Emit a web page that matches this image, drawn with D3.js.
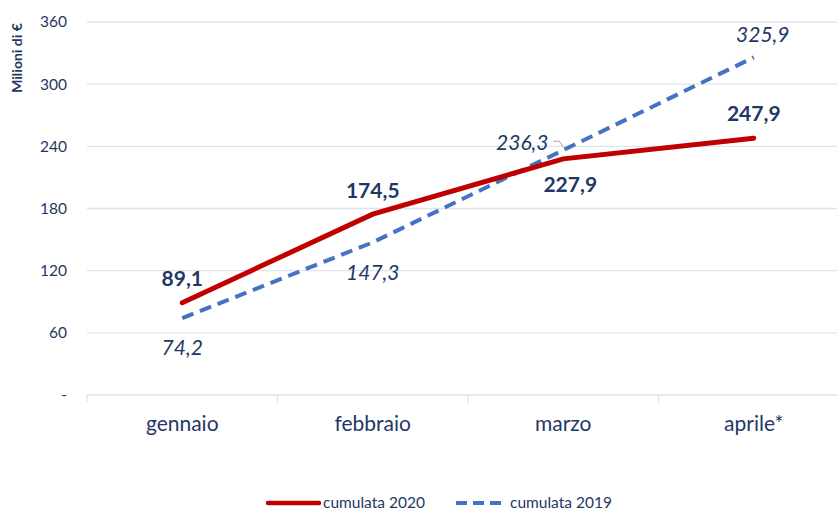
<!DOCTYPE html>
<html>
<head>
<meta charset="utf-8">
<script src="https://cdn.jsdelivr.net/npm/d3@7"></script>
<style>
  body { margin: 0; background: #fff; }
  text { font-family: Lato, "Noto Sans", sans-serif; fill: #1F3864; }
</style>
</head>
<body>
<div class="chart"></div>
<script>
var months = ["gennaio", "febbraio", "marzo", "aprile*"];
var cum2020 = [89.1, 174.5, 227.9, 247.9];
var cum2019 = [74.2, 147.3, 236.3, 325.9];
var yTicks = [0, 60, 120, 180, 240, 300, 360];

var width = 837,
    height = 511;

var svg = d3.select(".chart").append("svg")
    .attr("width", width)
    .attr("height", height);

var x = d3.scaleBand().domain(months).range([87, 849]);
var y = d3.scaleLinear().domain([0, 360]).range([395, 22]);

function fmt(v) { return d3.format(".1f")(v).replace(".", ","); }

// gridlines
svg.append("g")
  .selectAll("line")
  .data(yTicks.filter(function(d) { return d > 0; }))
  .enter().append("line")
    .attr("x1", 87).attr("x2", width)
    .attr("y1", function(d) { return y(d); })
    .attr("y2", function(d) { return y(d); })
    .attr("stroke", "#dfe3ea")
    .attr("stroke-width", 1.3);

// y tick labels
svg.append("g")
  .selectAll("text")
  .data(yTicks)
  .enter().append("text")
    .attr("x", 67)
    .attr("y", function(d) { return y(d); })
    .attr("dy", "0.35em")
    .attr("text-anchor", "end")
    .style("font-size", "15.5px")
    .text(function(d) { return d === 0 ? "-" : d; });

// x axis line + ticks
svg.append("line")
    .attr("x1", 87).attr("x2", width)
    .attr("y1", y(0)).attr("y2", y(0))
    .attr("stroke", "#dfe3ea").attr("stroke-width", 1.3);
svg.append("g")
  .selectAll("line")
  .data(months)
  .enter().append("line")
    .attr("x1", function(d) { return x(d); })
    .attr("x2", function(d) { return x(d); })
    .attr("y1", y(0)).attr("y2", y(0) + 8)
    .attr("stroke", "#dfe3ea").attr("stroke-width", 1.3);

svg.append("g")
  .selectAll("text")
  .data(months)
  .enter().append("text")
    .attr("x", function(d) { return x(d) + x.bandwidth() / 2; })
    .attr("y", 431)
    .attr("text-anchor", "middle")
    .style("font-size", "21px")
    .text(function(d) { return d; });

// y title
svg.append("text")
    .attr("transform", "translate(22,58) rotate(-90)")
    .attr("text-anchor", "middle")
    .style("font-size", "14px")
    .style("font-weight", "bold")
    .text("Milioni di €");

var line = d3.line()
    .x(function(d, i) { return x(months[i]) + x.bandwidth() / 2; })
    .y(function(d) { return y(d); });

svg.append("path")
    .datum(cum2019)
    .attr("d", line)
    .attr("fill", "none")
    .attr("stroke", "#4472C4")
    .attr("stroke-width", 4)
    .attr("stroke-dasharray", "12,7");

svg.append("path")
    .datum(cum2020)
    .attr("d", line)
    .attr("fill", "none")
    .attr("stroke", "#C00000")
    .attr("stroke-width", 5)
    .attr("stroke-linecap", "round");

// data labels (offsets relative to point)
var off2020 = [[0, -24], [0, -24], [7, 26], [0, -24]];
var off2019 = [[0, 30], [0, 30], [-41, -8], [9, -23]];

svg.append("g")
  .selectAll("text")
  .data(cum2020)
  .enter().append("text")
    .attr("x", function(d, i) { return x(months[i]) + x.bandwidth() / 2 + off2020[i][0]; })
    .attr("y", function(d, i) { return y(d) + off2020[i][1]; })
    .attr("dy", "0.35em")
    .attr("text-anchor", "middle")
    .style("font-size", "21px")
    .style("font-weight", "bold")
    .text(fmt);

svg.append("g")
  .selectAll("text")
  .data(cum2019)
  .enter().append("text")
    .attr("x", function(d, i) { return x(months[i]) + x.bandwidth() / 2 + off2019[i][0]; })
    .attr("y", function(d, i) { return y(d) + off2019[i][1]; })
    .attr("dy", "0.35em")
    .attr("text-anchor", "middle")
    .style("font-size", "21px")
    .style("font-style", "italic")
    .text(fmt);

// leader line for marzo 2019
var mx = x("marzo") + x.bandwidth() / 2;
svg.append("path")
    .attr("d", "M" + (mx - 10) + "," + (y(236.3) - 9) + "h6l4,6")
    .attr("fill", "none")
    .attr("stroke", "#a6a6a6")
    .attr("stroke-width", 1);

// legend
var lg = svg.append("g").attr("transform", "translate(0,503)");
lg.append("line")
    .attr("x1", 268).attr("x2", 319)
    .attr("stroke", "#C00000").attr("stroke-width", 4.5)
    .attr("stroke-linecap", "round");
lg.append("text")
    .attr("x", 323).attr("dy", "0.35em")
    .style("font-size", "15.5px")
    .text("cumulata 2020");
lg.append("line")
    .attr("x1", 456).attr("x2", 505)
    .attr("stroke", "#4472C4").attr("stroke-width", 4)
    .attr("stroke-dasharray", "11,6");
lg.append("text")
    .attr("x", 510).attr("dy", "0.35em")
    .style("font-size", "15.5px")
    .text("cumulata 2019");
</script>
</body>
</html>
